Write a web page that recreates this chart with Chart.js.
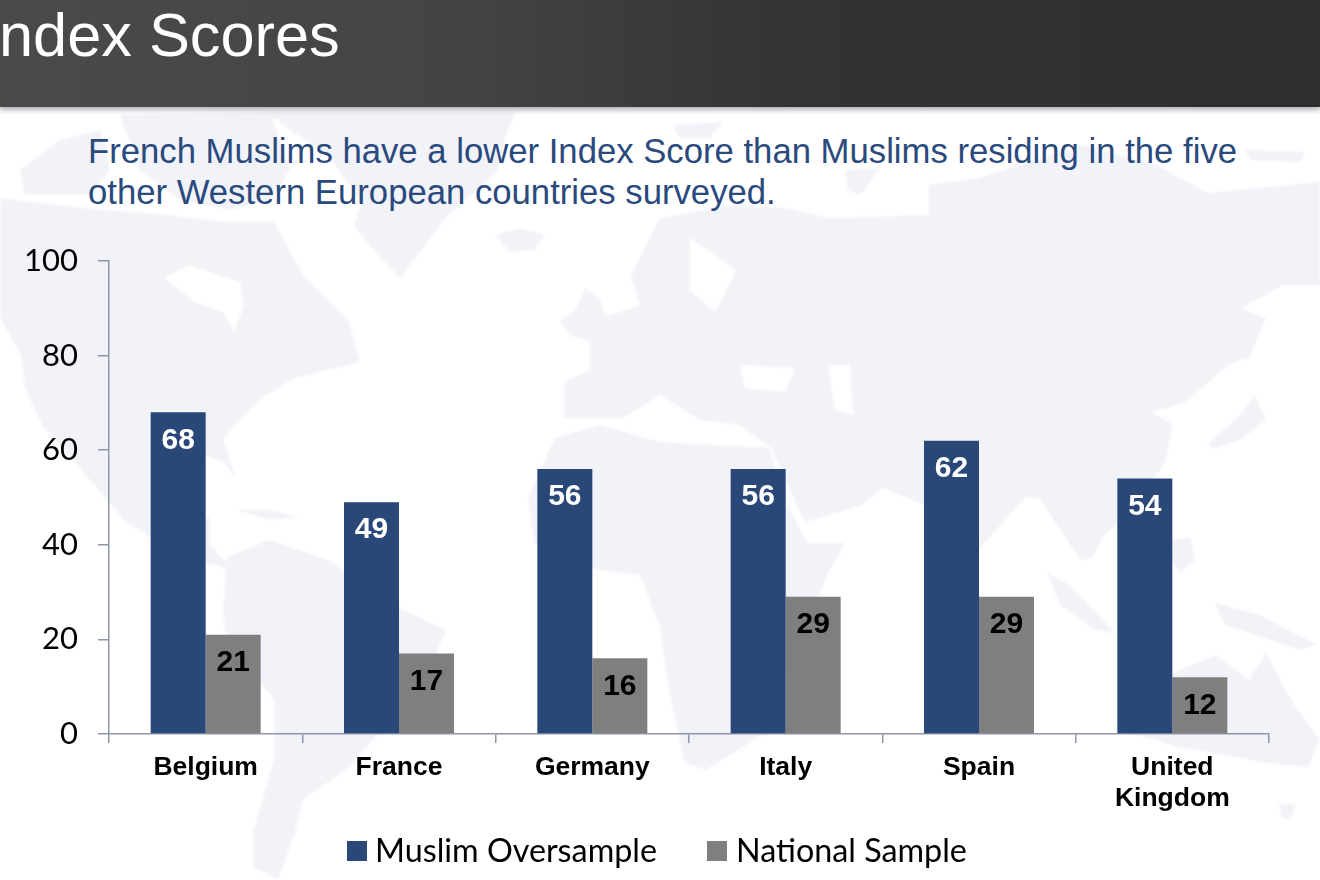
<!DOCTYPE html>
<html>
<head>
<meta charset="utf-8">
<script src="https://cdn.jsdelivr.net/npm/chart.js@4"></script>
<style>
  html, body { margin: 0; padding: 0; background: #fff; }
  #page { position: relative; width: 1320px; height: 880px; overflow: hidden; background: #fff; }
  #map { position: absolute; left: 0; top: 0; filter: blur(1.2px); }
  #header {
    position: absolute; left: 0; top: 0; width: 1320px; height: 107px;
    background: linear-gradient(90deg, #4a4a4a 0%, #444 35%, #333 60%, #2e2e2e 100%);
    box-shadow: 0 3px 5px rgba(120,125,135,.6);
  }
  #title {
    position: absolute; left: -18px; top: -1px; color: #fff; white-space: nowrap;
    font: 61.3px "Liberation Sans", sans-serif; line-height: 72px;
  }
  #subtitle {
    position: absolute; left: 88px; top: 131px; width: 1230px; color: #2a4a7d;
    font: 34.7px/41px "Liberation Sans", sans-serif;
  }
  #chart { position: absolute; left: 0; top: 0; }
</style>
</head>
<body>
<div id="page">
  <!-- faint world map behind the chart, traced roughly -->
  <svg id="map" width="1320" height="880" fill="#f1f3f8">
    <path fill-rule="evenodd" d="M0 198 L84 208 L168 215 L227 222 L274 222 L303 275 L349 322 L360 362 L295 378 L261 398 L223 438 L236 478 L223 462 L202 455 L152 472 L177 525 L210 518 L210 545 L236 572 L215 565 L190 562 L126 522 L97 488 L42 425 L25 388 L21 355 L0 318Z M164 278 L189 265 L240 282 L244 305 L234 332 L223 312 L194 302Z"/>
    <path d="M60 140 L100 130 L110 170 L90 195 L25 195 L20 170Z"/>
    <path d="M120 115 L270 112 L290 170 L270 200 L230 210 L180 200 L140 170Z"/>
    <path d="M265 112 L515 112 L505 138 L497 172 L446 218 L412 262 L400 278 L375 252 L354 225 L362 202 L328 155 L290 130Z"/>
    <path d="M495 235 L520 228 L545 235 L535 250 L510 252Z"/>
    <path d="M560 320 L575 310 L585 288 L600 300 L615 340 L590 342 L570 335Z"/>
    <path d="M236 510 L270 510 L300 517 L270 520Z"/>
    <path d="M227 557 L269 540 L328 560 L404 610 L446 630 L433 660 L379 733 L349 767 L303 800 L295 833 L278 880 L253 867 L253 833 L274 760 L274 700 L227 643 L223 613Z"/>
    <path fill-rule="evenodd" d="M631 275 L660 218 L730 205 L786 208 L828 218 L929 215 L929 185 L980 178 L1081 145 L1157 165 L1207 193 L1320 182 L1320 285 L1283 285 L1241 308 L1266 318 L1249 358 L1228 365 L1186 402 L1152 412 L1173 425 L1165 462 L1140 500 L1102 538 L1093 557 L1081 561 L1039 498 L1026 497 L960 570 L925 505 L883 488 L862 505 L805 522 L771 448 L740 425 L700 420 L660 395 L623 418 L564 418 L564 382 L590 370 L590 322 L640 305Z M690 238 L736 270 L715 312 L690 290Z M740 365 L795 368 L785 392 L745 388Z M828 365 L850 365 L853 415 L835 410Z"/>
    <path d="M1207 445 L1240 415 L1255 395 L1266 420 L1240 440 L1215 448Z"/>
    <path d="M555 438 L600 425 L660 442 L715 445 L769 448 L790 510 L807 543 L845 543 L828 573 L800 640 L765 733 L706 770 L685 763 L668 687 L660 627 L640 575 L598 570 L534 543 L528 498Z"/>
    <path d="M1047 573 L1070 585 L1115 633 L1095 630 L1060 605Z"/>
    <path d="M1173 540 L1190 537 L1195 560 L1180 573 L1172 560Z"/>
    <path d="M1215 603 L1260 615 L1317 645 L1300 650 L1255 635 L1225 625Z"/>
    <path d="M1131 733 L1135 700 L1173 673 L1216 655 L1249 680 L1266 653 L1291 700 L1320 740 L1308 767 L1266 763 L1225 755 L1178 747Z"/>
    <path d="M1279 803 L1296 805 L1290 820 L1282 818Z"/>
    <path d="M845 170 L880 168 L860 195 L848 190Z"/>
    <path d="M673 125 L723 122 L710 138 L680 138Z"/>
    <path d="M1245 150 L1305 152 L1300 162 L1250 160Z"/>
  </svg>
  <div id="header"><div id="title">Index Scores</div></div>
  <div id="subtitle">French Muslims have a lower Index Score than Muslims residing in the five<br>other Western European countries surveyed.</div>
  <canvas id="chart" width="1320" height="880"></canvas>
</div>
<script>
const categories = ['Belgium', 'France', 'Germany', 'Italy', 'Spain', ['United', 'Kingdom']];
const muslimOversample = [68, 49, 56, 56, 62, 54];
const nationalSample = [21, 17, 16, 29, 29, 12];
const yMax = 100;
const yStep = 20;

const axisColor = '#8f96a8';
const tickFont = { family: 'Lato', size: 31 };

// value labels, inside the top of each bar
const barValues = {
  id: 'barValues',
  afterDatasetsDraw(chart) {
    const ctx = chart.ctx;
    ctx.save();
    ctx.font = 'bold 30px "Liberation Sans"';
    ctx.textAlign = 'center';
    ctx.textBaseline = 'middle';
    chart.data.datasets.forEach((ds, i) => {
      ctx.fillStyle = ds.valueColor;
      chart.getDatasetMeta(i).data.forEach((bar, j) => {
        ctx.fillText(ds.data[j], bar.x, bar.y + 28);
      });
    });
    ctx.restore();
  },
};

// legend drawn here because the built-in one can't set the box/text gap
const bottomLegend = {
  id: 'bottomLegend',
  afterDraw(chart) {
    const ctx = chart.ctx;
    const items = [[347, 375], [707, 736]];
    ctx.save();
    ctx.font = '32.3px Lato';
    ctx.textBaseline = 'middle';
    chart.data.datasets.forEach((ds, i) => {
      ctx.fillStyle = ds.backgroundColor;
      ctx.fillRect(items[i][0], 841, 20, 20);
      ctx.fillStyle = '#000';
      ctx.fillText(ds.label, items[i][1], 852);
    });
    ctx.restore();
  },
};

new Chart(document.getElementById('chart'), {
  type: 'bar',
  data: {
    labels: categories,
    datasets: [
      {
        label: 'Muslim Oversample',
        backgroundColor: '#2a4877',
        valueColor: '#fff',
        data: muslimOversample,
      },
      {
        label: 'National Sample',
        backgroundColor: '#7f7f7f',
        valueColor: '#000',
        data: nationalSample,
      },
    ],
  },
  options: {
    responsive: false,
    animation: false,
    layout: { padding: { top: 261, right: 51 } },
    datasets: { bar: { categoryPercentage: 0.569, barPercentage: 1 } },
    plugins: {
      legend: { display: false },
      tooltip: { enabled: false },
    },
    scales: {
      x: {
        afterFit: (scale) => { scale.height = 146; },
        border: { color: axisColor, width: 1.5 },
        grid: { drawOnChartArea: false, color: axisColor, tickLength: 9, lineWidth: 1.5 },
        ticks: {
          color: '#000',
          maxRotation: 0,
          autoSkip: false,
          padding: 9,
          font: { family: 'Liberation Sans', size: 26.5, weight: 'bold', lineHeight: 1.17 },
        },
      },
      y: {
        min: 0,
        max: yMax,
        afterFit: (scale) => { scale.width = 109; },
        border: { color: axisColor, width: 1.5 },
        grid: { drawOnChartArea: false, color: axisColor, tickLength: 11, lineWidth: 1.5 },
        ticks: { stepSize: yStep, color: '#000', padding: 20, font: tickFont },
      },
    },
  },
  plugins: [barValues, bottomLegend],
});
</script>
</body>
</html>
